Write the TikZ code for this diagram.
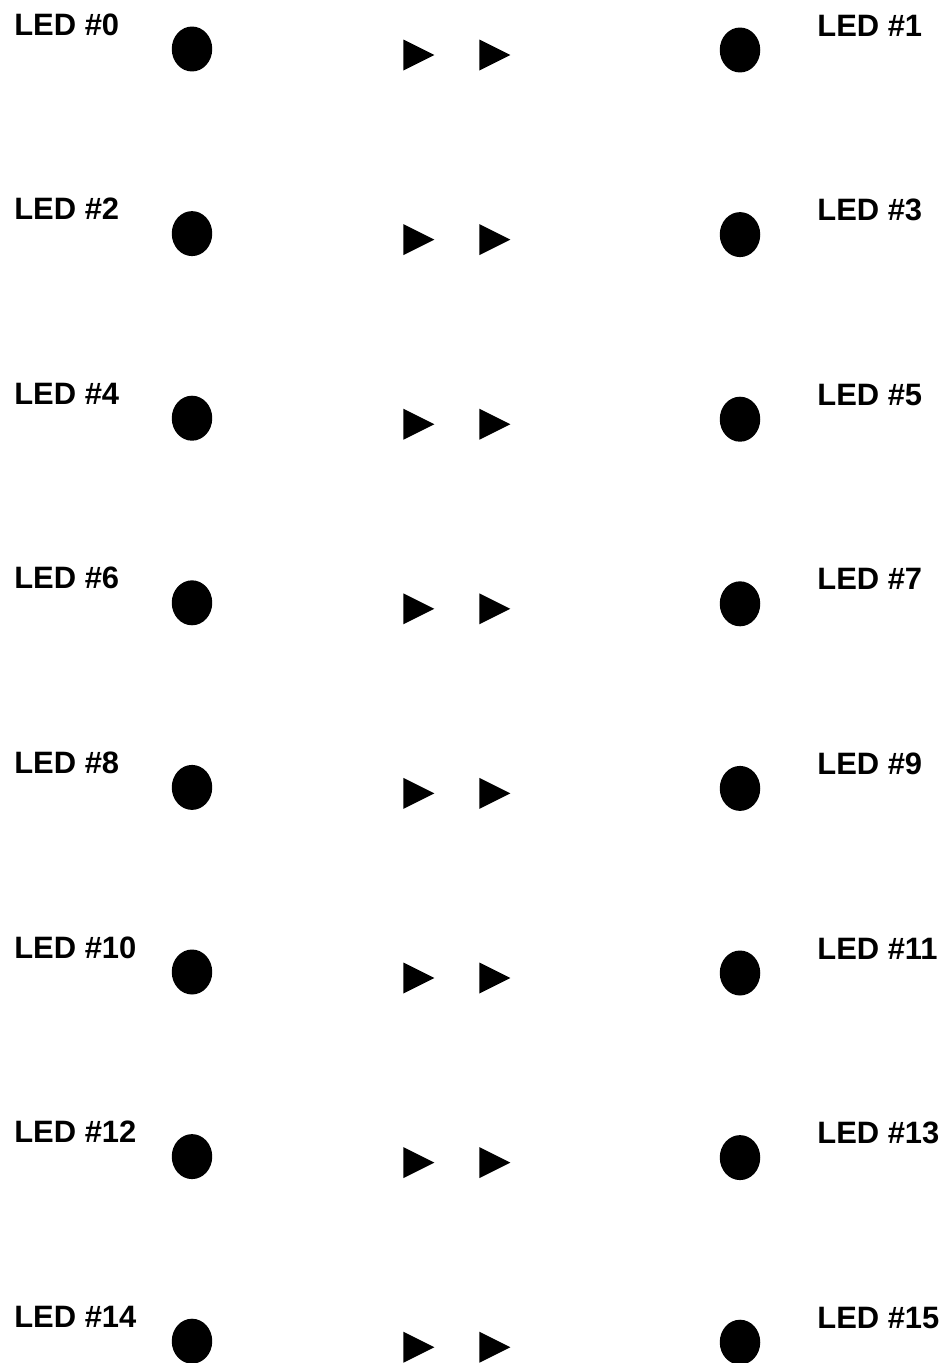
\documentclass[tikz,border=0pt]{standalone}
\usepackage{fontspec}
\setmainfont{Liberation Sans}
\usetikzlibrary{positioning,shapes.geometric}

\begin{document}
\begin{tikzpicture}[x=0.02cm, y=-0.02cm,
    lamp/.style={ellipse, fill=black, minimum width=0.81cm, minimum height=0.9cm, inner sep=0pt},
    play/.style={isosceles triangle, isosceles triangle stretches, fill=black, minimum width=0.62cm, minimum height=0.62cm, inner sep=0pt, anchor=west},
    lbl/.style={font=\fontsize{17.6}{20}\selectfont\bfseries, inner sep=0pt, anchor=base west},
]
\useasboundingbox (0,0) rectangle (943,1363);

\foreach \r in {0,...,7}{
    \pgfmathtruncatemacro{\a}{2*\r}
    \pgfmathtruncatemacro{\b}{2*\r+1}
    \pgfmathsetmacro{\yy}{49+184.6*\r}
    \node[lamp] (ledL\r) at (192, \yy) {};
    \node[lamp] (ledR\r) at (740, \yy+1) {};
    \node[play] (fwdA\r) at (403, \yy+6) {};
    \node[play] (fwdB\r) at (479, \yy+6) {};
    \node[lbl] (nameL\r) at (14, \yy-14) {LED \#\a};
    \node[lbl] (nameR\r) at (817, \yy-13) {LED \#\b};
}

\end{tikzpicture}
\end{document}
